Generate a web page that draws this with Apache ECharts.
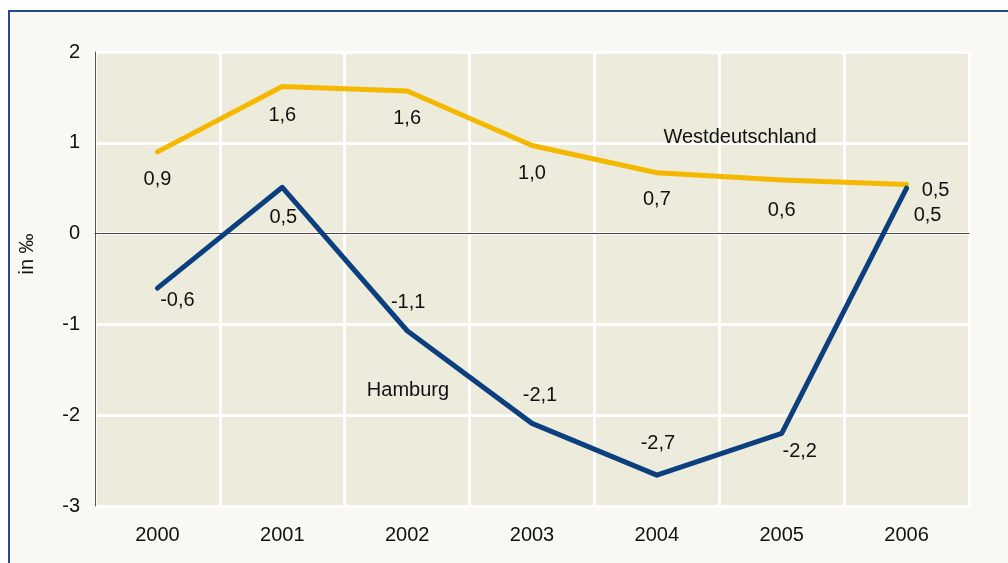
<!DOCTYPE html>
<html>
<head>
<meta charset="utf-8">
<script src="https://cdn.jsdelivr.net/npm/echarts@6/dist/echarts.min.js"></script>
<style>
  html, body { margin: 0; padding: 0; background: #ffffff; }
  #chart { width: 1008px; height: 563px; }
</style>
</head>
<body>
<div id="chart"></div>
<script>
// Daten
const years = ['2000', '2001', '2002', '2003', '2004', '2005', '2006'];
const westdeutschland = [0.9, 1.62, 1.57, 0.97, 0.67, 0.59, 0.54];
const hamburg = [-0.6, 0.51, -1.07, -2.09, -2.66, -2.2, 0.5];

// Lage der Wertebeschriftungen (Versatz zum Punkt, px)
const westOffsets = [[0, 28], [0, 29], [0, 27], [0, 28], [0, 27], [0, 30], [29, 6]];
const hamburgOffsets = [[20, 12], [1, 30], [1, -28], [8, -28], [1, -32], [18, 18], [21, 27]];

const FONT = 'Liberation Sans, Arial, sans-serif';
const FS = 20;

function fmt(v) {
  return (Math.round(v * 10) / 10).toFixed(1).replace('.', ',');
}

function withLabels(values, offsets) {
  return values.map((v, i) => ({
    value: v,
    label: { offset: offsets[i] },
  }));
}

const chart = echarts.init(document.getElementById('chart'));
chart.setOption({
  backgroundColor: '#ffffff',
  animation: false,
  textStyle: { fontFamily: FONT },
  graphic: [
    {
      type: 'rect',
      z: -10,
      shape: { x: 9, y: 11, width: 1010, height: 560 },
      style: { fill: '#f9f8f3', stroke: '#1f4e8c', lineWidth: 2 },
    },
    {
      type: 'text',
      x: 27,
      y: 254,
      rotation: Math.PI / 2,
      style: {
        text: 'in ‰',
        font: FS + 'px ' + FONT,
        fill: '#111',
        align: 'center',
        verticalAlign: 'middle',
      },
    },
    {
      type: 'text',
      x: 740,
      y: 137,
      z: 10,
      style: {
        text: 'Westdeutschland',
        font: FS + 'px ' + FONT,
        fill: '#111',
        align: 'center',
        verticalAlign: 'middle',
      },
    },
    {
      type: 'text',
      x: 408,
      y: 390,
      z: 10,
      style: {
        text: 'Hamburg',
        font: FS + 'px ' + FONT,
        fill: '#111',
        align: 'center',
        verticalAlign: 'middle',
      },
    },
  ],
  grid: {
    left: 95,
    right: 39,
    top: 52,
    bottom: 57,
    show: true,
    backgroundColor: '#edebdb',
    borderWidth: 0,
  },
  xAxis: {
    type: 'category',
    data: years,
    boundaryGap: true,
    axisLine: { show: true, onZero: true, lineStyle: { color: '#444', width: 1 } },
    axisTick: { show: false },
    axisLabel: { color: '#111', fontSize: FS, margin: 19, fontFamily: FONT },
    splitLine: { show: true, lineStyle: { color: '#ffffff', width: 3 } },
  },
  yAxis: {
    type: 'value',
    min: -3,
    max: 2,
    interval: 1,
    axisLine: { show: true, lineStyle: { color: '#555', width: 1 } },
    axisTick: { show: false },
    axisLabel: { color: '#111', fontSize: FS, margin: 15, fontFamily: FONT },
    splitLine: { show: true, lineStyle: { color: '#ffffff', width: 3 } },
  },
  series: [
    {
      name: 'Westdeutschland',
      type: 'line',
      data: withLabels(westdeutschland, westOffsets),
      symbol: 'circle',
      symbolSize: 1,
      itemStyle: { color: '#f5b800' },
      lineStyle: { color: '#f5b800', width: 5, cap: 'round', join: 'round' },
      label: {
        show: true,
        position: 'inside',
        color: '#111',
        fontSize: FS,
        fontFamily: FONT,
        formatter: (p) => fmt(p.value),
      },
      z: 3,
    },
    {
      name: 'Hamburg',
      type: 'line',
      data: withLabels(hamburg, hamburgOffsets),
      symbol: 'circle',
      symbolSize: 1,
      itemStyle: { color: '#0b3f7e' },
      lineStyle: { color: '#0b3f7e', width: 5, cap: 'round', join: 'round' },
      label: {
        show: true,
        position: 'inside',
        color: '#111',
        fontSize: FS,
        fontFamily: FONT,
        formatter: (p) => fmt(p.value),
      },
      z: 4,
    },
  ],
});
</script>
</body>
</html>
